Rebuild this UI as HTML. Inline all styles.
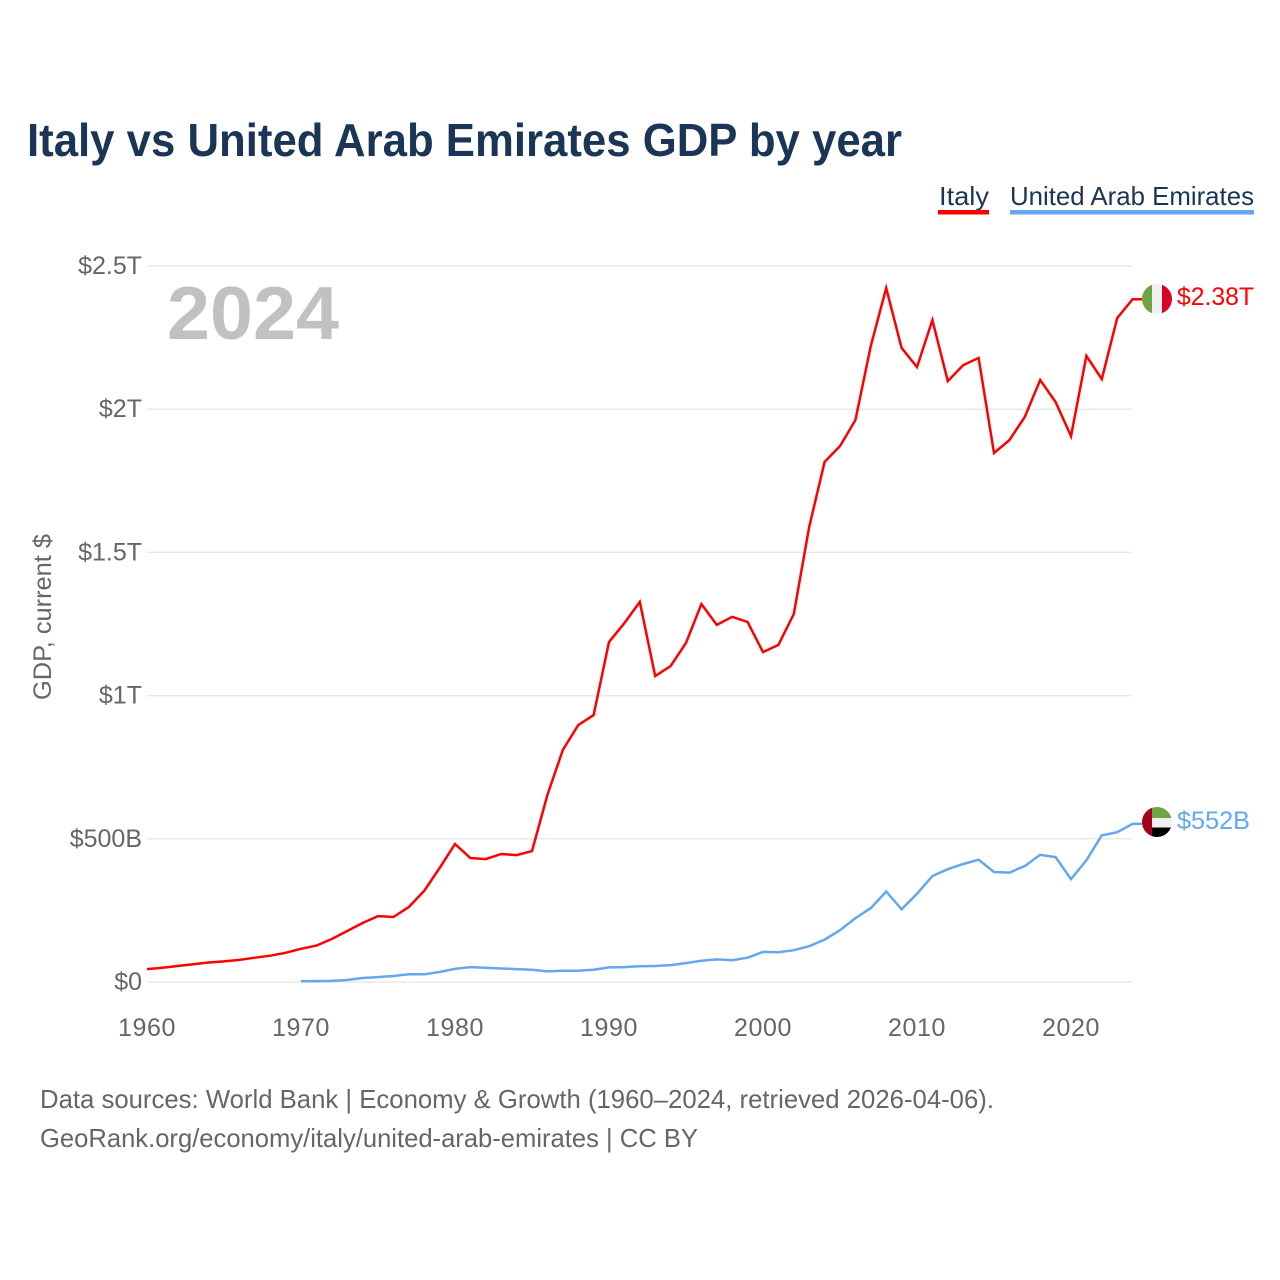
<!DOCTYPE html>
<html lang="en">
<head>
<meta charset="utf-8">
<title>Italy vs United Arab Emirates GDP by year</title>
<style>
html,body{margin:0;padding:0;background:#fff;width:1280px;height:1280px;overflow:hidden}
svg{display:block}
text{font-family:"Liberation Sans",sans-serif}
</style>
</head>
<body>
<svg id="chart" xmlns="http://www.w3.org/2000/svg" width="1280" height="1280" viewBox="0 0 1280 1280">
  <defs>
    <clipPath id="clip-italy"><circle cx="1157" cy="299" r="15"/></clipPath>
    <clipPath id="clip-uae"><circle cx="1157" cy="822" r="15"/></clipPath>
  </defs>
  <rect width="1280" height="1280" fill="#fff"/>
  <text x="27" y="156" font-size="46" font-weight="bold" fill="#1b3556" textLength="875" lengthAdjust="spacingAndGlyphs">Italy vs United Arab Emirates GDP by year</text>

  <g>
    <text x="939" y="205" font-size="26" fill="#1b3556" textLength="50" lengthAdjust="spacingAndGlyphs">Italy</text>
    <rect x="938" y="210" width="51" height="4.5" fill="#ff0000"/>
  </g>
  <g>
    <text x="1010" y="205" font-size="26" fill="#1b3556" textLength="244" lengthAdjust="spacingAndGlyphs">United Arab Emirates</text>
    <rect x="1010" y="210" width="244" height="4.5" fill="#63a8ee"/>
  </g>

  <g id="grid"></g>
  <g id="yticks"></g>
  <g id="xticks"></g>

  <text x="167" y="339" font-size="75" font-weight="bold" fill="#c1c1c1" textLength="172" lengthAdjust="spacingAndGlyphs">2024</text>
  <text transform="translate(51,700) rotate(-90)" x="0" y="0" font-size="25" fill="#666" textLength="166" lengthAdjust="spacingAndGlyphs">GDP, current $</text>

  <g id="series"></g>

  <g clip-path="url(#clip-italy)">
    <rect x="1142" y="284" width="10" height="30" fill="#6da544"/>
    <rect x="1152" y="284" width="10" height="30" fill="#f0f0f0"/>
    <rect x="1162" y="284" width="10" height="30" fill="#d80027"/>
  </g>
  <g clip-path="url(#clip-uae)">
    <rect x="1152" y="807" width="20" height="11" fill="#6da544"/>
    <rect x="1152" y="818" width="20" height="9.5" fill="#f0f0f0"/>
    <rect x="1152" y="827.5" width="20" height="10" fill="#000"/>
    <rect x="1142" y="807" width="10" height="30" fill="#a2001d"/>
  </g>

  <text x="1177" y="305" font-size="25" fill="#ff0000" textLength="77" lengthAdjust="spacingAndGlyphs">$2.38T</text>
  <text x="1177" y="829" font-size="25" fill="#63a8ee" textLength="73" lengthAdjust="spacingAndGlyphs">$552B</text>

  <text x="40" y="1108" font-size="26" fill="#666" textLength="954" lengthAdjust="spacingAndGlyphs">Data sources: World Bank | Economy &amp; Growth (1960–2024, retrieved 2026-04-06).</text>
  <text x="40" y="1147" font-size="26" fill="#666" textLength="658" lengthAdjust="spacingAndGlyphs">GeoRank.org/economy/italy/united-arab-emirates | CC BY</text>
</svg>
<script>
const yTickValues = [0, 500, 1000, 1500, 2000, 2500];
const yTickLabels = ["$0", "$500B", "$1T", "$1.5T", "$2T", "$2.5T"];
const xTickYears = [1960, 1970, 1980, 1990, 2000, 2010, 2020];
const italyStartYear = 1960;
const italyGdp = [45,50,56,62,68,72,77,85,92,102,116,127,150,178,206,230,227,262,318,398,482,433,429,447,443,457,653,810,897,932,1187,1253,1327,1068,1103,1184,1320,1247,1275,1257,1152,1177,1285,1589,1816,1871,1962,2221,2423,2214,2147,2311,2098,2154,2179,1847,1892,1973,2102,2025,1906,2186,2105,2318,2384];
const uaeStartYear = 1970;
const uaeGdp = [3,3,4,7,14,17,21,27,27,35,46,52,50,47,45,43,37,39,39,43,51,52,55,56,59,66,74,79,76,85,105,104,111,125,148,181,223,258,316,254,308,370,394,412,427,384,382,405,444,436,359,425,512,523,552];

const svgNS = "http://www.w3.org/2000/svg";
function xScale(year) { return 147 + (year - 1960) * 15.4; }
function yScale(value) { return 982 - value * 0.2864; }
function make(tag, attrs, parent) {
  const el = document.createElementNS(svgNS, tag);
  for (const k in attrs) el.setAttribute(k, attrs[k]);
  parent.appendChild(el);
  return el;
}
const gridG = document.getElementById("grid");
const yG = document.getElementById("yticks");
const xG = document.getElementById("xticks");
const seriesG = document.getElementById("series");

yTickValues.forEach(function (v, i) {
  const line = make("line", {x1: 147, x2: 1132, y1: yScale(v), y2: yScale(v), stroke: "#e9e9e9", "stroke-width": 1.5}, gridG);
  
  
  const t = make("text", {x: 142, y: yScale(v) + 8, "text-anchor": "end", "font-size": 25, fill: "#666"}, yG);
  
  
  t.textContent = yTickLabels[i];
});

xTickYears.forEach(function (y) {
  const t = make("text", {x: xScale(y), y: 1036, "text-anchor": "middle", "font-size": 25, fill: "#666", "letter-spacing": 0.6}, xG);
  
  
  t.textContent = y;
});

function pathFor(startYear, values) {
  let d = "";
  values.forEach(function (v, i) {
    d += (i ? "L" : "M") + xScale(startYear + i).toFixed(1) + " " + yScale(v).toFixed(1);
  });
  return d + "L1142 " + yScale(values[values.length - 1]).toFixed(1);
}
const italyLine = make("path", {d: pathFor(italyStartYear, italyGdp), fill: "none", stroke: "#ff0000", "stroke-width": 2.5, "stroke-linejoin": "miter"}, seriesG);


const uaeLine = make("path", {d: pathFor(uaeStartYear, uaeGdp), fill: "none", stroke: "#63a8ee", "stroke-width": 2.5, "stroke-linejoin": "miter"}, seriesG);


</script>
</body>
</html>
